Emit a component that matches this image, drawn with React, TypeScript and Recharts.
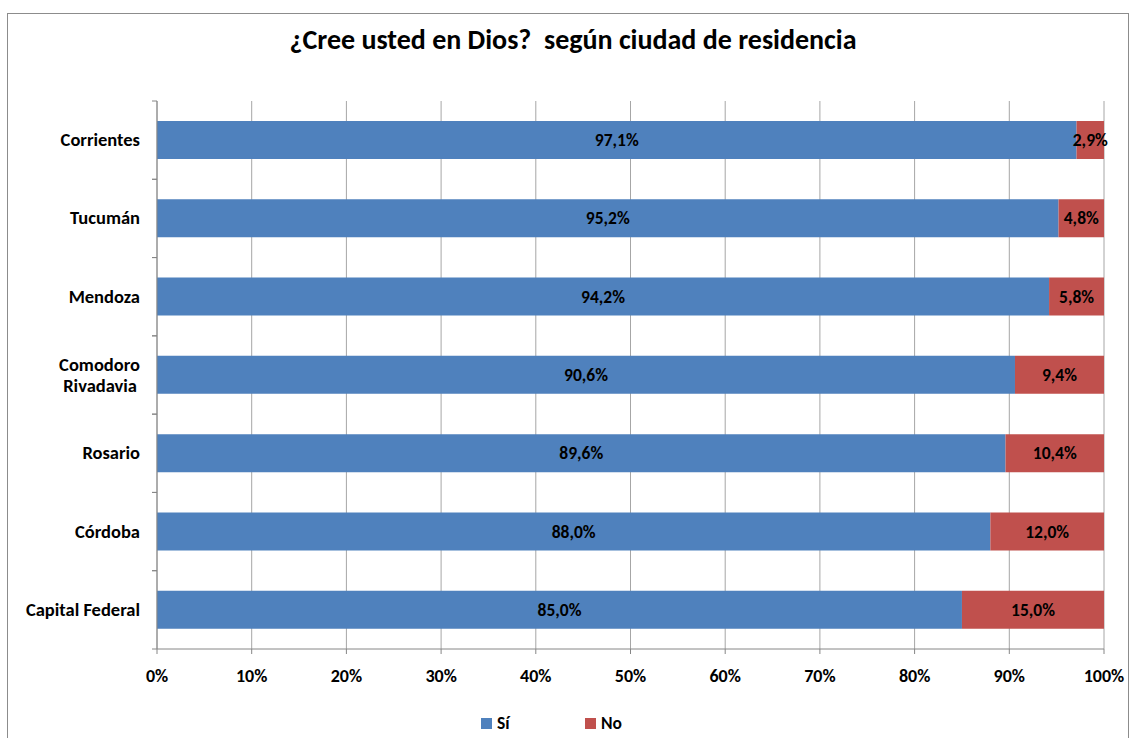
import React from 'react';
import { BarChart, Bar, XAxis, YAxis, CartesianGrid, LabelList } from 'recharts';

const ciudades = ['Corrientes', 'Tucumán', 'Mendoza', 'Comodoro Rivadavia', 'Rosario', 'Córdoba', 'Capital Federal'];
const si = [97.1, 95.2, 94.2, 90.6, 89.6, 88.0, 85.0];
const no = [2.9, 4.8, 5.8, 9.4, 10.4, 12.0, 15.0];
const xTicks = [0, 10, 20, 30, 40, 50, 60, 70, 80, 90, 100];

const data = ciudades.map((ciudad, i) => ({ ciudad, si: si[i], no: no[i] }));

const FONT = 'Carlito, Lato, "Open Sans", sans-serif';
const BLUE = '#4F81BD';
const RED = '#C0504D';

const W = 1129;
const H = 738;
const TOP = 101;
const BOTTOM = 89;
const BAND = (H - TOP - BOTTOM) / ciudades.length;

const pct = (v: any) => `${Number(v).toFixed(1).replace('.', ',')}%`;

function CityTick({ x, y, payload }: any) {
  const lines: string[] = payload.value === 'Comodoro Rivadavia' ? ['Comodoro', 'Rivadavia'] : [payload.value];
  const half = BAND / 2;
  return (
    <g>
      <line x1={x + 1} x2={x + 6} y1={y - half} y2={y - half} stroke="#868686" />
      <line x1={x + 1} x2={x + 6} y1={y + half} y2={y + half} stroke="#868686" />
      <text x={x - 11} y={y} textAnchor="end" fontFamily={FONT} fontWeight="bold" fontSize={18.5} fill="#000">
        {lines.map((l, i) => (
          <tspan key={l} x={x - (i === 1 ? 14 : 11)} dy={i === 0 ? (lines.length === 1 ? 6 : -4) : 21}>
            {l}
          </tspan>
        ))}
      </text>
    </g>
  );
}

export default function App() {
  return (
    <div style={{ position: 'absolute', left: 0, top: 0, width: W, height: H, background: '#fff', overflow: 'hidden' }}>
      <div style={{ position: 'absolute', left: 7, top: 13, width: 1120, height: 740, border: '1px solid #8c8c8c' }} />
      <div
        style={{
          position: 'absolute', left: 0, top: 22, width: 1146, textAlign: 'center',
          fontFamily: FONT, fontWeight: 'bold', fontSize: 28, color: '#000', whiteSpace: 'pre',
        }}
      >
        {'¿Cree usted en Dios?  según ciudad de residencia'}
      </div>
      <div style={{ position: 'absolute', left: 0, top: 0 }}>
        <BarChart
          width={W}
          height={H}
          data={data}
          layout="vertical"
          margin={{ top: TOP, right: 25, bottom: BOTTOM - 40, left: 7 }}
          barSize={38}
        >
          <CartesianGrid horizontal={false} stroke="#a6a6a6" />
          <XAxis
            type="number"
            domain={[0, 100]}
            ticks={xTicks}
            tickFormatter={(v) => `${v}%`}
            height={40}
            tickSize={5}
            tickMargin={15}
            stroke="#868686"
            tick={{ fontFamily: FONT, fontWeight: 'bold', fontSize: 18, fill: '#000' }}
            interval={0}
          />
          <YAxis
            type="category"
            dataKey="ciudad"
            width={150}
            tickLine={false}
            stroke="#868686"
            tick={<CityTick />}
            tickMargin={0}
            interval={0}
          />
          <Bar dataKey="si" stackId="a" fill={BLUE} isAnimationActive={false}>
            <LabelList dataKey="si" position="center" formatter={pct} fill="#000" fontFamily={FONT} fontWeight="bold" fontSize={17.5} />
          </Bar>
          <Bar dataKey="no" stackId="a" fill={RED} isAnimationActive={false}>
            <LabelList dataKey="no" position="center" formatter={pct} fill="#000" fontFamily={FONT} fontWeight="bold" fontSize={17.5} />
          </Bar>
        </BarChart>
      </div>
      <div style={{ position: 'absolute', left: 481, top: 712, display: 'flex', alignItems: 'center', fontFamily: FONT, fontWeight: 'bold', fontSize: 17.5 }}>
        <span style={{ width: 11, height: 11, background: BLUE, display: 'inline-block', marginRight: 5 }} />
        <span>Sí</span>
      </div>
      <div style={{ position: 'absolute', left: 585, top: 712, display: 'flex', alignItems: 'center', fontFamily: FONT, fontWeight: 'bold', fontSize: 17.5 }}>
        <span style={{ width: 11, height: 11, background: RED, display: 'inline-block', marginRight: 5 }} />
        <span>No</span>
      </div>
    </div>
  );
}
